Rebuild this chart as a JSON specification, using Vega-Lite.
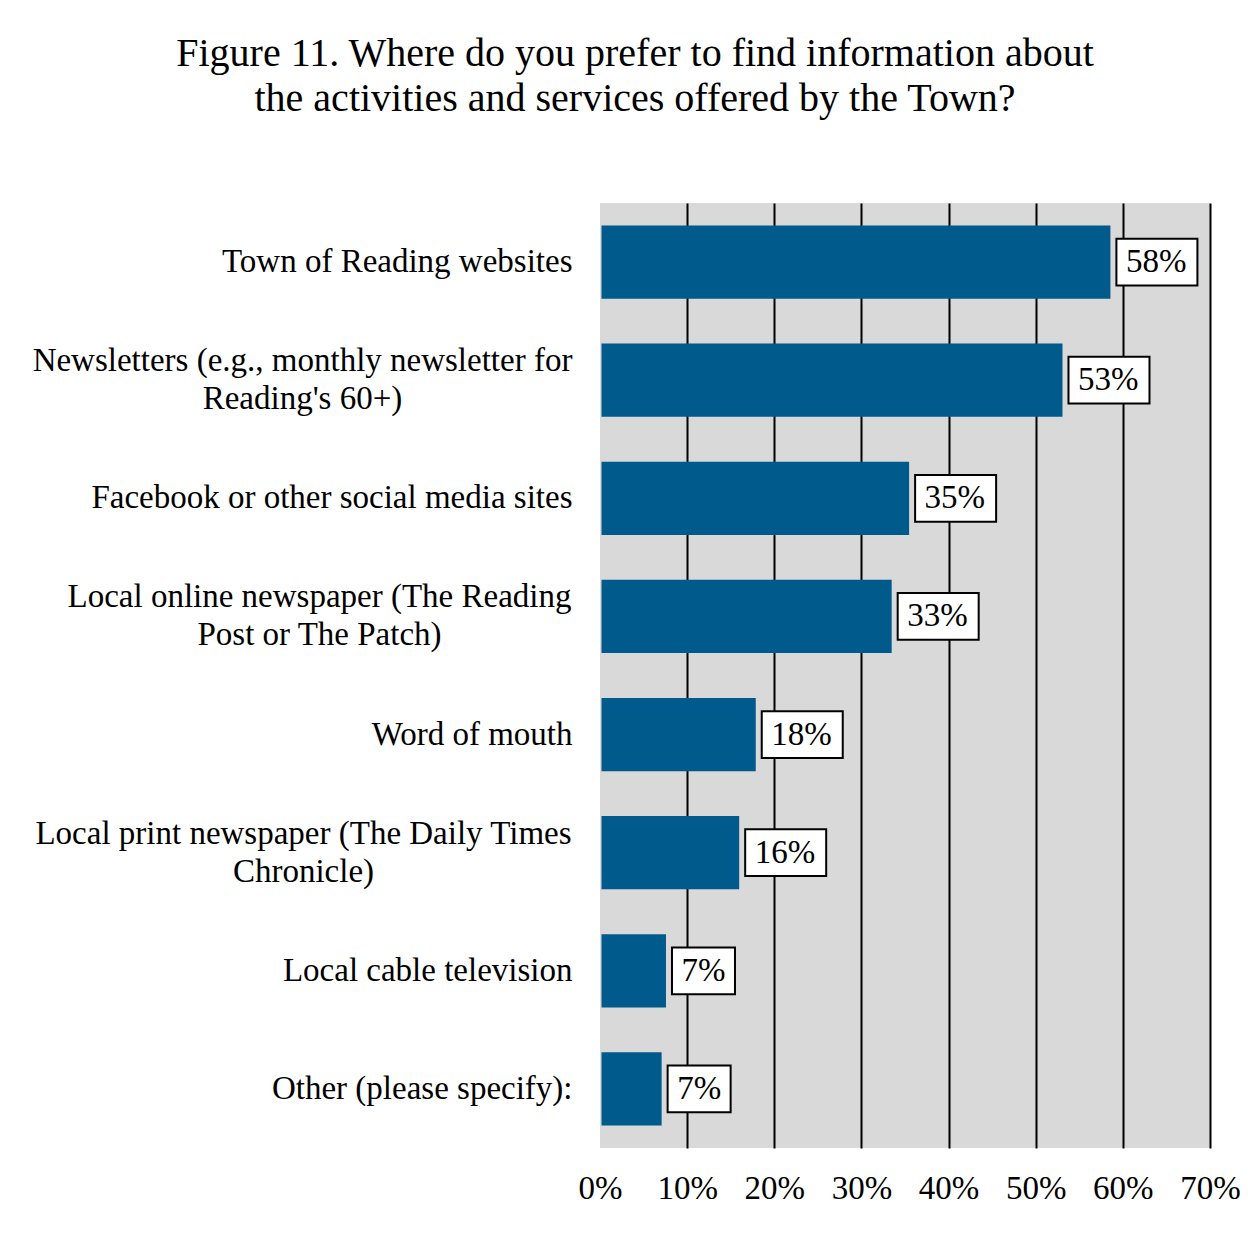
{
  "$schema": "https://vega.github.io/schema/vega-lite/v6.json",
  "autosize": {"type": "none"},
  "width": 610,
  "height": 945,
  "padding": {"left": 600, "top": 203, "right": 47, "bottom": 94},
  "background": "white",
  "title": {
    "text": ["Figure 11. Where do you prefer to find information about", "the activities and services offered by the Town?"],
    "anchor": "middle",
    "frame": "group",
    "dx": -270,
    "offset": 84,
    "font": "Liberation Serif",
    "fontSize": 40,
    "fontWeight": "normal",
    "lineHeight": 45,
    "color": "black"
  },
  "data": {
    "values": [
      {"source": "Town of Reading websites", "share": 0.584},
      {"source": "Newsletters (e.g., monthly newsletter for\nReading's 60+)", "share": 0.529},
      {"source": "Facebook or other social media sites", "share": 0.353},
      {"source": "Local online newspaper (The Reading\nPost or The Patch)", "share": 0.333},
      {"source": "Word of mouth", "share": 0.177},
      {"source": "Local print newspaper (The Daily Times\nChronicle)", "share": 0.158},
      {"source": "Local cable television", "share": 0.074},
      {"source": "Other (please specify):", "share": 0.069}
    ]
  },
  "config": {
    "view": {"stroke": null, "fill": "#d9d9d9"},
    "font": "Liberation Serif"
  },
  "encoding": {
    "y": {
      "field": "source",
      "type": "nominal",
      "sort": null,
      "title": null,
      "scale": {"paddingInner": 0.38, "paddingOuter": 0.19},
      "axis": {
        "ticks": false,
        "domain": false,
        "grid": false,
        "labelFont": "Liberation Serif",
        "labelFontSize": 33,
        "labelColor": "black",
        "labelLimit": 700,
        "labelLineHeight": 38,
        "labelBaseline": "middle",
        "labelExpr": "split(datum.label, '\\n')",
        "labelAlign": {
          "condition": {"test": "indexof(datum.value, '\\n') >= 0", "value": "center"},
          "value": "right"
        },
        "labelOffset": {
          "condition": {"test": "indexof(datum.value, '\\n') >= 0", "value": -19},
          "value": 0
        },
        "labelPadding": {
          "condition": [
            {"test": "indexof(datum.value, 'Newsletters') === 0", "value": 298},
            {"test": "indexof(datum.value, 'Local online') === 0", "value": 281},
            {"test": "indexof(datum.value, 'Local print') === 0", "value": 297}
          ],
          "value": 28
        }
      }
    },
    "x": {
      "field": "share",
      "type": "quantitative",
      "title": null,
      "scale": {"domain": [0, 0.7], "nice": false},
      "axis": {
        "values": [0, 0.1, 0.2, 0.3, 0.4, 0.5, 0.6, 0.7],
        "format": ".0%",
        "ticks": false,
        "domain": false,
        "grid": true,
        "gridColor": {
          "condition": {"test": "datum.value === 0", "value": "transparent"},
          "value": "black"
        },
        "gridWidth": 2,
        "gridOpacity": 1,
        "labelFont": "Liberation Serif",
        "labelFontSize": 33,
        "labelColor": "black",
        "labelPadding": 24,
        "labelFlush": false
      }
    }
  },
  "layer": [
    {
      "mark": {"type": "bar", "color": "#005a8c", "xOffset": 1.5}
    },
    {
      "transform": [{"filter": "datum.share >= 0.095"}],
      "mark": {"type": "bar", "fill": "white", "stroke": "black", "strokeWidth": 2, "xOffset": 7.5, "x2Offset": 88.5, "height": {"band": 0.637}},
      "encoding": {"x2": {"field": "share"}}
    },
    {
      "transform": [{"filter": "datum.share < 0.095"}],
      "mark": {"type": "bar", "fill": "white", "stroke": "black", "strokeWidth": 2, "xOffset": 7.5, "x2Offset": 70.5, "height": {"band": 0.637}},
      "encoding": {"x2": {"field": "share"}}
    },
    {
      "mark": {"type": "text", "align": "left", "baseline": "middle", "dx": 17, "font": "Liberation Serif", "fontSize": 33, "color": "black"},
      "encoding": {"text": {"field": "share", "type": "quantitative", "format": ".0%"}}
    }
  ]
}
